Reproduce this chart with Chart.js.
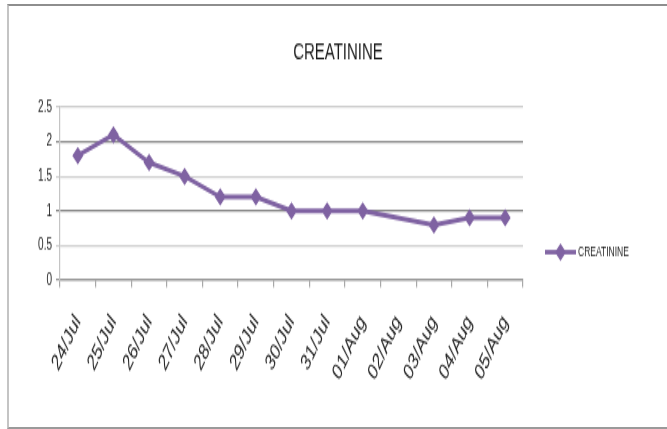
<!DOCTYPE html>
<html>
<head>
<meta charset="utf-8">
<script src="https://cdn.jsdelivr.net/npm/chart.js@4"></script>
<style>
  html, body { margin: 0; padding: 0; background: #fff; overflow: hidden; }
  #wrap { position: relative; width: 667px; height: 429px; }
  #frame {
    position: absolute; left: 7px; top: 4px; width: 720px; height: 421px;
    border-top: 2px solid #8e8e8e; border-left: 2px solid #c4c4c4; border-bottom: 2px solid #9a9a9a;
  }
  #c { position: absolute; left: 0; top: 0; }
</style>
</head>
<body>
<div id="wrap">
  <div id="frame"></div>
  <canvas id="c" width="667" height="268" style="width:667px;height:429px;"></canvas>
</div>
<script>
// Daily creatinine readings
const categories = ['24/Jul', '25/Jul', '26/Jul', '27/Jul', '28/Jul', '29/Jul', '30/Jul',
                    '31/Jul', '01/Aug', '02/Aug', '03/Aug', '04/Aug', '05/Aug'];
const creatinine = [1.8, 2.1, 1.7, 1.5, 1.2, 1.2, 1.0, 1.0, 1.0, null, 0.8, 0.9, 0.9];
const seriesName = 'CREATININE';
const chartTitle = 'CREATININE';
const yTicks = [0, 0.5, 1, 1.5, 2, 2.5];

const FONT = "'Liberation Sans', Arial, sans-serif";
const PURPLE = '#7f62a2';

// Title centred over the whole chart, plus the legend entry at the right
const headerAndLegend = {
  id: 'headerAndLegend',
  afterDraw(chart) {
    const ctx = chart.ctx;
    const ds = chart.data.datasets[0];
    ctx.save();
    ctx.fillStyle = '#1e1e1e';
    ctx.font = '15px ' + FONT;
    ctx.textAlign = 'center';
    ctx.textBaseline = 'middle';
    ctx.fillText(chartTitle, 338, 32.5);

    const y = 157.5, x0 = 545, x1 = 576;
    ctx.strokeStyle = ds.borderColor;
    ctx.lineWidth = 2.8;
    ctx.beginPath(); ctx.moveTo(x0, y); ctx.lineTo(x1, y); ctx.stroke();
    const xm = (x0 + x1) / 2, r = 5.5;
    ctx.fillStyle = ds.borderColor;
    ctx.beginPath();
    ctx.moveTo(xm - r, y); ctx.lineTo(xm, y - r); ctx.lineTo(xm + r, y); ctx.lineTo(xm, y + r);
    ctx.closePath(); ctx.fill();
    ctx.fillStyle = '#1e1e1e';
    ctx.font = '8.5px ' + FONT;
    ctx.textAlign = 'left';
    ctx.fillText(ds.label, x1 + 2, y + 0.5);
    ctx.restore();
  }
};

new Chart(document.getElementById('c'), {
  type: 'line',
  data: {
    labels: categories,
    datasets: [{
      label: seriesName,
      data: creatinine,
      borderColor: PURPLE,
      backgroundColor: PURPLE,
      borderWidth: 3,
      tension: 0,
      spanGaps: true,
      pointStyle: 'rectRot',
      pointRadius: 5.5,
      pointBorderWidth: 0,
      pointBackgroundColor: PURPLE
    }]
  },
  options: {
    responsive: false,
    animation: false,
    layout: { padding: { left: 10, right: 144, top: 66.9, bottom: 0 } },
    plugins: {
      legend: { display: false },
      tooltip: { enabled: false },
      title: { display: false }
    },
    scales: {
      x: {
        offset: true,
        grid: { offset: true, drawOnChartArea: false, tickLength: 4.5, color: '#a8a8a8', lineWidth: 1.2 },
        border: { color: '#9a9a9a', width: 1.3 },
        ticks: {
          color: '#1e1e1e',
          font: { family: FONT, size: 14.5 },
          minRotation: 54, maxRotation: 54,
          padding: 14,
          autoSkip: false
        },
        afterFit(scale) { scale.height = 93; }
      },
      y: {
        min: 0, max: 2.5,
        afterBuildTicks(scale) { scale.ticks = yTicks.map(v => ({ value: v })); },
        grid: {
          tickLength: 4,
          lineWidth: 1.2,
          color(ctx) {
            const v = ctx.tick ? ctx.tick.value : 0;
            if (v === 0) return '#9a9a9a';
            return (Math.round(v * 2) % 2 === 0) ? '#8c8c8c' : '#cfcfcf';
          }
        },
        border: { color: '#c4c4c4', width: 1.2 },
        ticks: {
          color: '#1e1e1e',
          font: { family: FONT, size: 10 },
          padding: 4,
          callback: v => String(v)
        },
        afterFit(scale) { scale.width = 50; }
      }
    }
  },
  plugins: [headerAndLegend]
});
</script>
</body>
</html>
